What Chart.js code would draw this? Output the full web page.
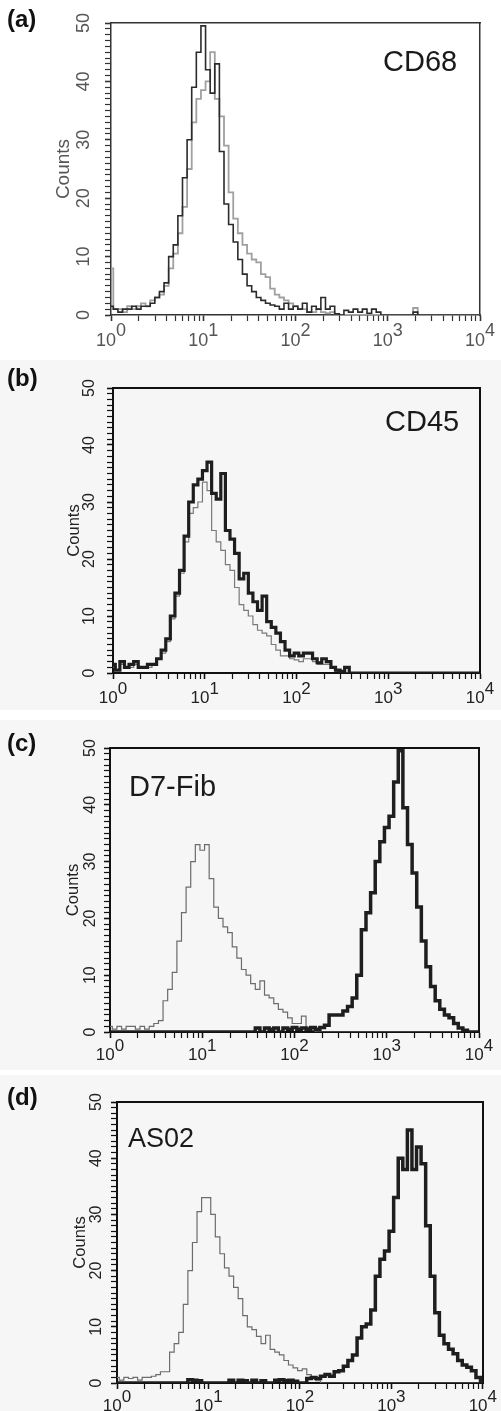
<!DOCTYPE html>
<html>
<head>
<meta charset="utf-8">
<title>Flow cytometry histograms</title>
<script src="https://cdn.jsdelivr.net/npm/chart.js@4.4.0/dist/chart.umd.min.js"></script>
<style>
  body { margin: 0; width: 501px; height: 1411px; position: relative; overflow: hidden; background: #fff;
         font-family: "Liberation Sans", Arial, sans-serif; }
  canvas { position: absolute; left: 0; }
  .tag { position: absolute; left: 7px; font-size: 24px; font-weight: bold; line-height: 1; color: #111; }
  .name { position: absolute; font-size: 29px; line-height: 1; color: #1a1a1a; }
</style>
</head>
<body>
<canvas id="chartA" width="501" height="350" style="top:0px"></canvas>
<canvas id="chartB" width="501" height="350" style="top:360px;background:#f6f6f6"></canvas>
<canvas id="chartC" width="501" height="350" style="top:720px;background:#f6f6f6"></canvas>
<canvas id="chartD" width="501" height="336" style="top:1075px;background:#f6f6f6"></canvas>

<div class="tag" style="top:7px">(a)</div>
<div class="tag" style="top:366px">(b)</div>
<div class="tag" style="top:731px">(c)</div>
<div class="tag" style="top:1085px">(d)</div>

<div class="name" style="left:383px;top:47px">CD68</div>
<div class="name" style="left:385px;top:407px">CD45</div>
<div class="name" style="left:129px;top:772px">D7-Fib</div>
<div class="name" style="left:128px;top:1125px;font-size:27px">AS02</div>

<script>
// histogram bins: 20 per decade, from 10^0 to 10^4 (81 bins)
const LOG_STEP = 0.05;
const xTickValues = [1, 2, 3, 4, 5, 6, 7, 8, 9,
                     10, 20, 30, 40, 50, 60, 70, 80, 90,
                     100, 200, 300, 400, 500, 600, 700, 800, 900,
                     1000, 2000, 3000, 4000, 5000, 6000, 7000, 8000, 9000, 10000];
const yMin = 0, yMax = 50;

// (a) CD68
const cd68Stain = [1.5, 1, 0.5, 1, 1, 1.5, 1, 1.5, 1.5, 2,
    3, 4, 5.5, 10, 12, 17, 23.5, 30, 39, 45,
    49.5, 42, 38, 43, 28, 19, 15.5, 12.5, 9.5, 7,
    5, 4, 3, 2.5, 2, 1.7, 1.5, 1, 2, 1,
    1.5, 1, 2, 0.5, 1.5, 1, 3, 1, 1.5, 0.2,
    0, 0.8, 0.5, 1, 0.5, 1, 0.3, 1, 0.5, 0,
    0, 0, 0, 0, 0, 0, 0.5, 0, 0, 0,
    0, 0, 0, 0, 0, 0, 0, 0, 0, 0, 0];
const cd68Control = [8, 1, 1, 0.5, 1.5, 1, 1.5, 2, 1.5, 2.5,
    3, 3.5, 5, 8, 10.5, 14, 18.5, 25, 33, 37,
    38.5, 40, 45, 37, 34, 29, 21, 16.5, 14, 12,
    10.5, 9.5, 9, 7, 6.5, 4.5, 3.5, 3, 2.5, 2,
    1.5, 1, 1, 0.5, 0.5, 1, 0.5, 0.3, 0.5, 0,
    0, 0, 0, 0, 0, 0, 0, 0, 0, 0,
    0, 0, 0, 0, 0, 0, 1.2, 0, 0, 0,
    0, 0, 0, 0, 0, 0, 0, 0, 0, 0, 0];

// (b) CD45
const cd45Stain = [1.5, 0.5, 2, 1, 1.5, 2, 1, 1, 1.5, 1.5,
    2.5, 4, 6, 10, 14, 18, 24, 30, 33, 34,
    35.5, 37, 31.5, 30.5, 35, 25, 23.5, 21, 16.5, 17.5,
    14, 12.5, 11, 13.5, 9, 8, 7, 5.5, 4, 3,
    3.5, 3, 3.5, 3.5, 2.5, 1.8, 2.5, 2, 1, 0.5,
    0.3, 1, 0, 0, 0, 0, 0, 0, 0, 0,
    0, 0, 0, 0, 0, 0, 0, 0, 0, 0,
    0, 0, 0, 0, 0, 0, 0, 0, 0, 0, 0];
const cd45Control = [1, 0.5, 1.5, 1, 1, 1.5, 1, 1, 1, 1.5,
    2.5, 3.5, 5.5, 9.5, 13.5, 17.5, 23, 28, 29, 30,
    33.5, 32, 25, 23, 21.5, 19, 18, 15, 12, 11,
    10, 8.5, 7.5, 7, 6.5, 5, 4, 3, 3, 2.5,
    2.3, 2, 2.5, 2.5, 2, 1.5, 1.5, 1.5, 0.8, 0.3,
    0, 0, 0, 0, 0, 0, 0, 0, 0, 0,
    0, 0, 0, 0, 0, 0, 0, 0, 0, 0,
    0, 0, 0, 0, 0, 0, 0, 0, 0, 0, 0];

// (c) D7-Fib
const d7Stain = [0, 0, 0, 0, 0, 0, 0, 0, 0, 0,
    0, 0, 0, 0, 0, 0, 0, 0, 0, 0,
    0, 0, 0, 0, 0, 0, 0, 0, 0, 0,
    0, 0, 0.7, 0, 0.7, 0.5, 0.7, 0, 0.7, 0.5,
    0.8, 0.5, 0.7, 0.5, 0.8, 0.5, 0.8, 1.2, 3, 3,
    3, 3.7, 4.5, 6, 10, 18, 21, 24.5, 30, 33.5,
    36, 38, 44, 49.5, 39.5, 33, 28, 22, 16, 11.5,
    8, 5.5, 4, 3, 2.5, 1.5, 0.7, 0.3, 0, 0, 0];
const d7Control = [1, 0.5, 1, 0.5, 1, 1, 0.5, 1, 0.5, 1,
    1.5, 2, 5.5, 7.5, 10.5, 16, 21, 25.5, 30, 33,
    32, 33, 27, 22, 20, 18.5, 17.5, 15, 13, 11,
    10, 8.5, 7.5, 9, 6.5, 6, 5, 4, 3.5, 2.5,
    1.5, 1.5, 2.8, 0.8, 0.3, 0, 0, 0, 0, 0,
    0, 0, 0, 0, 0, 0, 0, 0, 0, 0,
    0, 0, 0, 0, 0, 0, 0, 0, 0, 0,
    0, 0, 0, 0, 0, 0, 0, 0, 0, 0, 0];

// (d) AS02
const as02Stain = [0, 0, 0, 0, 0, 0, 0, 0, 0, 0,
    0, 0, 0, 0, 0, 0, 0.6, 0.5, 0.4, 0,
    0, 0, 0, 0, 0, 0.5, 0, 0.5, 0.4, 0,
    0.5, 0, 0.4, 0, 0, 0.5, 0.6, 0.4, 0.5, 0.3,
    0, 0, 0.8, 1, 0.8, 1.2, 1.5, 1.2, 2, 2.2,
    3, 4, 5, 8, 10, 10.5, 13, 19, 22, 23.5,
    27, 33, 40, 38, 45, 38, 42, 39, 28, 19,
    12.5, 8.5, 7, 6, 5.2, 4, 3.2, 2.8, 2.2, 1, 0.3];
const as02Control = [1, 0.5, 1, 0.8, 1, 0.5, 1, 1, 1.2, 1.5,
    2, 2, 5.5, 7, 9, 14, 20, 25, 30.5, 33,
    33, 30, 26, 23, 20.5, 19, 17, 15, 12, 10,
    9.5, 8.3, 7, 8.5, 6, 5.5, 5, 4, 3.2, 2.7,
    2.2, 2.5, 1.5, 1, 0.4, 0, 0, 0, 0, 0,
    0, 0, 0, 0, 0, 0, 0, 0, 0, 0,
    0, 0, 0, 0, 0, 0, 0, 0, 0, 0,
    0, 0, 0, 0, 0, 0, 0, 0, 0, 0, 0];

function toPoints(counts) {
    return counts.map((c, i) => ({ x: Math.pow(10, i * LOG_STEP), y: c }));
}

function isDecade(v) {
    const e = Math.round(Math.log10(v));
    return Math.abs(v - Math.pow(10, e)) < 1e-6 ? e : null;
}

function makeChart(id, p) {
    const ctx = document.getElementById(id);
    const frame = { display: true, color: p.axisColor, width: p.axisWidth };

    return new Chart(ctx, {
        type: 'line',
        data: {
            datasets: p.series.map(s => ({
                data: toPoints(s.counts),
                borderColor: s.color,
                borderWidth: s.width,
                pointRadius: 0,
                stepped: 'middle',
                fill: false
            }))
        },
        options: {
            responsive: false,
            animation: false,
            events: [],
            layout: { padding: { left: p.padLeft, top: p.padTop, right: p.padRight, bottom: 0 } },
            plugins: { legend: { display: false }, tooltip: { enabled: false } },
            scales: {
                x: {
                    type: 'logarithmic',
                    min: 1,
                    max: 10000,
                    border: frame,
                    grid: {
                        drawOnChartArea: false,
                        tickLength: p.tickLen,
                        tickColor: p.axisColor,
                        tickWidth: c => isDecade(c.tick.value) !== null ? 1.6 : 1.2
                    },
                    afterBuildTicks: s => { s.ticks = xTickValues.map(v => ({ value: v })); },
                    afterFit: s => { s.height = p.xHeight; },
                    ticks: {
                        autoSkip: false,
                        maxRotation: 0,
                        minRotation: 0,
                        padding: p.xPad,
                        color: p.textColor,
                        font: { family: 'Liberation Sans', size: p.xFont, lineHeight: 0.54 },
                        // exponent on the first line, base on the second: reads as 10^n
                        callback: v => {
                            const e = isDecade(v);
                            return e === null ? '' : ['    ' + e, '10  '];
                        }
                    }
                },
                y: {
                    min: yMin,
                    max: yMax,
                    border: frame,
                    grid: {
                        drawOnChartArea: false,
                        tickLength: p.tickLen,
                        tickColor: p.axisColor,
                        tickWidth: c => c.tick.value % 10 === 0 ? 1.6 : 1.2
                    },
                    afterFit: s => { s.width = p.yWidth; },
                    ticks: {
                        stepSize: 1,
                        autoSkip: false,
                        minRotation: 90,
                        maxRotation: 90,
                        crossAlign: 'center',
                        padding: p.yPad,
                        color: p.textColor,
                        font: { family: 'Liberation Sans', size: p.yFont },
                        callback: v => v % 10 === 0 ? String(v) : ''
                    },
                    title: {
                        display: true,
                        text: 'Counts',
                        color: p.textColor,
                        padding: 0,
                        font: { family: 'Liberation Sans', size: p.titleFont }
                    }
                },
                xTop: {
                    type: 'linear',
                    axis: 'x',
                    position: 'top',
                    border: frame,
                    grid: { display: false, drawTicks: false },
                    ticks: { display: false },
                    afterFit: s => { s.height = 0; }
                },
                yRight: {
                    type: 'linear',
                    axis: 'y',
                    position: 'right',
                    border: frame,
                    grid: { display: false, drawTicks: false },
                    ticks: { display: false },
                    afterFit: s => { s.width = 0; }
                }
            }
        }
    });
}

makeChart('chartA', {
    series: [
        { counts: cd68Stain, color: '#2b2b2b', width: 1.6 },
        { counts: cd68Control, color: '#a0a0a0', width: 1.8 }
    ],
    padLeft: 52, padTop: 23, padRight: 21, yWidth: 59, xHeight: 35,
    axisColor: '#333', axisWidth: 1.5, tickLen: 6, textColor: '#555',
    xFont: 18, yFont: 18, titleFont: 19, xPad: 5, yPad: 11
});

makeChart('chartB', {
    series: [
        { counts: cd45Stain, color: '#1e1e1e', width: 3.2 },
        { counts: cd45Control, color: '#7a7a7a', width: 1.2 }
    ],
    padLeft: 65, padTop: 28, padRight: 21, yWidth: 48, xHeight: 37,
    axisColor: '#111', axisWidth: 2, tickLen: 6, textColor: '#222',
    xFont: 17, yFont: 16, titleFont: 16.5, xPad: 5.5, yPad: 9
});

makeChart('chartC', {
    series: [
        { counts: d7Stain, color: '#1e1e1e', width: 3.5 },
        { counts: d7Control, color: '#6c6c6c', width: 1.2 }
    ],
    padLeft: 64, padTop: 28, padRight: 22, yWidth: 46, xHeight: 38,
    axisColor: '#111', axisWidth: 2, tickLen: 6, textColor: '#222',
    xFont: 17, yFont: 16, titleFont: 16.5, xPad: 4, yPad: 5
});

makeChart('chartD', {
    series: [
        { counts: as02Stain, color: '#1e1e1e', width: 3.5 },
        { counts: as02Control, color: '#6c6c6c', width: 1.2 }
    ],
    padLeft: 71, padTop: 27, padRight: 13, yWidth: 46, xHeight: 28,
    axisColor: '#111', axisWidth: 2, tickLen: 6, textColor: '#222',
    xFont: 17, yFont: 16, titleFont: 16.5, xPad: 4, yPad: 5.5
});
</script>
</body>
</html>
